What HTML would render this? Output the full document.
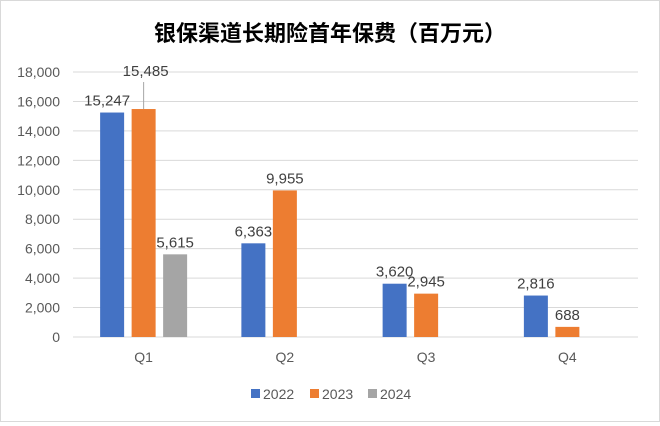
<!DOCTYPE html>
<html><head><meta charset="utf-8"><style>
body{margin:0;background:#fff}
#wrap{position:relative;width:660px;height:422px;background:#fff;box-sizing:border-box;border:1px solid #d9d9d9}
svg text{font-family:"Liberation Sans","Noto Sans CJK SC",sans-serif}
</style></head><body>
<div id="wrap">
<svg id="chart" width="658" height="420"></svg>
</div>
<script>
const categories=["Q1","Q2","Q3","Q4"];
const series2022=[15247,6363,3620,2816];
const series2023=[15485,9955,2945,688];
const series2024=[5615,null,null,null];
const seriesNames=["2022","2023","2024"];
const yTicks=[0,2000,4000,6000,8000,10000,12000,14000,16000,18000];
const colors=["#4472c4","#ed7d31","#a5a5a5"];
const svg=document.getElementById('chart');
const NS="http://www.w3.org/2000/svg";
const L=72,R=637,T=71,B=336,yMax=18000;
const y=v=>B-(v/yMax)*(B-T);
const band=(R-L)/categories.length;
const bw=24,gap=7.5;
const x=(i,s)=>L+band*i+band/2+(s-1)*(bw+gap)-bw/2;
function mk(tag,attrs,parent){const e=document.createElementNS(NS,tag);for(const k in attrs)e.setAttribute(k,attrs[k]);(parent||svg).appendChild(e);return e;}
const title=mk('text',{x:329,y:40,'text-anchor':'middle','font-size':22,'font-weight':'bold',fill:'#000'});
title.textContent="银保渠道长期险首年保费（百万元）";


yTicks.forEach(t=>{
 const g=mk('line',{x1:L,x2:R,y1:y(t),y2:y(t),stroke:'#d9d9d9','stroke-width':1});
 
 
 const tx=mk('text',{x:59,y:y(t)+5,'text-anchor':'end','font-size':14,fill:'#595959'});
 tx.textContent=t.toLocaleString('en-US');
 
 
});
categories.forEach((c,i)=>{
 const tx=mk('text',{x:L+band*i+band/2,y:361,'text-anchor':'middle','font-size':14,fill:'#595959'});
 tx.textContent=c;
 
 
});
[series2022,series2023,series2024].forEach((ser,s)=>{
 ser.forEach((v,i)=>{
  if(v==null)return;
  const bx=x(i,s);
  const r=mk('rect',{x:bx,y:y(v),width:bw,height:B-y(v),fill:colors[s]});
  
  
  let ly=y(v)-7, lx=bx+bw/2;
  if(i===0&&s===0){lx=bx+bw/2-5;}
  if(i===0&&s===1){ly=y(v)-33;
   const ln=mk('line',{x1:lx,x2:lx,y1:ly+6,y2:y(v),stroke:'#a6a6a6','stroke-width':1});
   
   
   lx=lx+2;}
  const tx=mk('text',{x:lx,y:ly,'text-anchor':'middle','font-size':15,fill:'#404040'});
  tx.textContent=v.toLocaleString('en-US');
  
  
 });
});
const lx0=[250,309,367];
seriesNames.forEach((n,s)=>{
 const g=mk('g',{});
 
 
 mk('rect',{x:lx0[s],y:388,width:9,height:9,fill:colors[s]},g);
 const t=mk('text',{x:lx0[s]+12,y:398,'font-size':14,fill:'#595959'},g);
 t.textContent=n;
});
</script>
</body></html>
